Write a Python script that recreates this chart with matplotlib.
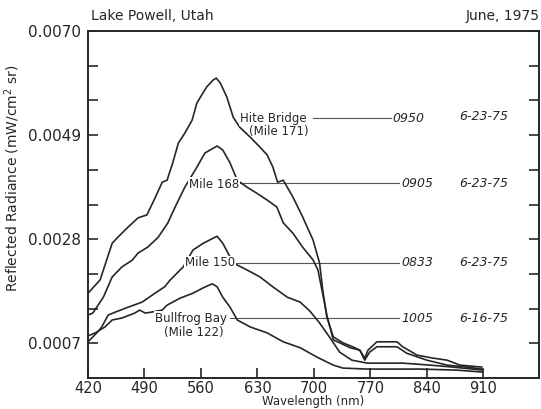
import matplotlib
matplotlib.use("Agg")
import matplotlib.pyplot as plt
from matplotlib.ticker import FixedLocator, NullFormatter

# spectra, Lake Powell stations (wavelength nm, radiance mW/cm^2 sr)
wl_hite = [420, 435, 450, 457, 470, 482, 493, 503, 512, 518, 525, 532, 540, 549, 555,
           567, 575, 579, 584, 592, 600, 608, 621, 633, 642, 649, 655, 662, 674, 686,
           699, 707, 711, 716, 724, 736, 748, 757, 763, 767, 778, 803, 810, 828, 848,
           865, 881, 908]
rad_hite = [0.00171, 0.00198, 0.00272, 0.00284, 0.00305, 0.00323, 0.00329, 0.00363,
            0.00395, 0.00399, 0.00434, 0.00474, 0.00494, 0.00520, 0.00555, 0.00587,
            0.00601, 0.00605, 0.00595, 0.00567, 0.00526, 0.00506, 0.00486, 0.00466,
            0.00450, 0.00426, 0.00395, 0.00399, 0.00365, 0.00325, 0.00278, 0.00232,
            0.00177, 0.00123, 0.00083, 0.00071, 0.00063, 0.00056, 0.00040, 0.00056,
            0.00073, 0.00073, 0.00063, 0.00046, 0.00040, 0.00036, 0.00026, 0.00022]

wl_168 = [420, 426, 439, 450, 462, 475, 482, 494, 507, 519, 528, 540, 553, 565, 580,
          587, 596, 605, 617, 629, 642, 654, 662, 674, 686, 699, 705, 710, 716, 724,
          745, 757, 763, 769, 778, 803, 815, 840, 865, 890, 908]
rad_168 = [0.00127, 0.00131, 0.00163, 0.00204, 0.00224, 0.00238, 0.00252, 0.00264,
           0.00284, 0.00313, 0.00345, 0.00385, 0.00420, 0.00454, 0.00468, 0.00460,
           0.00434, 0.00399, 0.00385, 0.00373, 0.00359, 0.00345, 0.00313, 0.00292,
           0.00264, 0.00238, 0.00218, 0.00177, 0.00127, 0.00077, 0.00061, 0.00056,
           0.00036, 0.00052, 0.00063, 0.00063, 0.00050, 0.00036, 0.00026, 0.00022,
           0.00018]

wl_150 = [420, 426, 432, 437, 445, 454, 470, 487, 503, 515, 522, 538, 550, 563, 580,
          587, 600, 617, 633, 649, 667, 683, 695, 707, 720, 732, 747, 766, 810, 844,
          872, 909]
rad_150 = [0.00073, 0.00083, 0.00093, 0.00103, 0.00127, 0.00133, 0.00143, 0.00153,
           0.00171, 0.00184, 0.00198, 0.00224, 0.00258, 0.00272, 0.00286, 0.00272,
           0.00232, 0.00218, 0.00204, 0.00184, 0.00163, 0.00153, 0.00135, 0.00111,
           0.00081, 0.00052, 0.00036, 0.00030, 0.00030, 0.00026, 0.00022, 0.00016]

wl_122 = [420, 429, 441, 450, 462, 478, 484, 491, 499, 512, 518, 534, 550, 563, 574,
          580, 587, 596, 605, 621, 642, 662, 683, 704, 724, 736, 766, 831, 876, 909]
rad_122 = [0.00085, 0.00091, 0.00103, 0.00117, 0.00121, 0.00131, 0.00137, 0.00131,
           0.00133, 0.00137, 0.00147, 0.00161, 0.00171, 0.00182, 0.00190, 0.00184,
           0.00163, 0.00143, 0.00117, 0.00103, 0.00091, 0.00073, 0.00061, 0.00042,
           0.00026, 0.00020, 0.00018, 0.00018, 0.00016, 0.00012]

xticks = [420, 490, 560, 630, 700, 770, 840, 910]
yticks = [0.0007, 0.0028, 0.0049, 0.0070]
yminor = [0.0014, 0.0021, 0.0035, 0.0042, 0.0056, 0.0063]

ink = "#262626"

fig = plt.figure(figsize=(5.41, 4.09), dpi=100)
ax = fig.add_axes([0.1627, 0.0758, 0.8336, 0.8484])

for wl, rad in [(wl_hite, rad_hite), (wl_168, rad_168), (wl_150, rad_150), (wl_122, rad_122)]:
    ax.plot(wl, rad, color=ink, lw=1.2, zorder=2)

ax.set_xlim(420, 979)
ax.set_ylim(0, 0.0070)
ax.set_xticks(xticks)
ax.set_yticks(yticks)
ax.set_yticklabels(["0.0007", "0.0028", "0.0049", "0.0070"])
ax.yaxis.set_minor_locator(FixedLocator(yminor))
ax.yaxis.set_minor_formatter(NullFormatter())
ax.tick_params(axis="both", which="both", direction="in", length=7, width=1.2,
               color=ink, labelsize=11, labelcolor=ink)
ax.tick_params(axis="y", which="both", right=True, pad=5)
ax.tick_params(axis="x", pad=2, labelsize=10.5)
for s in ax.spines.values():
    s.set_linewidth(1.4)
    s.set_color(ink)

# station labels with leader lines
lab = dict(fontsize=8.5, color=ink, ha="center", va="center", zorder=4)
box = dict(facecolor="white", edgecolor="none", pad=0.6)
num = dict(fontsize=9, color=ink, style="italic", ha="left", va="center")

ax.text(650, 0.00524, "Hite Bridge", bbox=box, **lab)
ax.text(656, 0.00497, "(Mile 171)", **lab)
ax.plot([699, 795], [0.00524, 0.00524], color="#555555", lw=0.8, zorder=1)
ax.text(797, 0.00524, "0950", **num)
ax.text(880, 0.00527, "6-23-75", **num)

ax.text(576, 0.00390, "Mile 168", bbox=box, **lab)
ax.plot([607, 806], [0.00393, 0.00393], color="#555555", lw=0.8, zorder=1)
ax.text(808, 0.00393, "0905", **num)
ax.text(880, 0.00393, "6-23-75", **num)

ax.text(571, 0.00232, "Mile 150", bbox=box, **lab)
ax.plot([601, 806], [0.00232, 0.00232], color="#555555", lw=0.8, zorder=1)
ax.text(808, 0.00232, "0833", **num)
ax.text(880, 0.00232, "6-23-75", **num)

ax.text(548, 0.00121, "Bullfrog Bay", bbox=box, **lab)
ax.text(551, 0.00091, "(Mile 122)", **lab)
ax.plot([596, 806], [0.00121, 0.00121], color="#555555", lw=0.8, zorder=1)
ax.text(808, 0.00121, "1005", **num)
ax.text(880, 0.00121, "6-16-75", **num)

fig.text(0.168, 0.962, "Lake Powell, Utah", fontsize=10, color=ink, ha="left", va="center")
fig.text(0.998, 0.962, "June, 1975", fontsize=10, color=ink, ha="right", va="center")
fig.text(0.022, 0.565, "Reflected Radiance (mW/cm$^2$ sr)", fontsize=10, color=ink,
         rotation=90, ha="center", va="center")
fig.text(0.579, 0.002, "Wavelength (nm)", fontsize=8.5, color=ink, ha="center", va="bottom")

fig.savefig("out.png", dpi=100, facecolor="white")
